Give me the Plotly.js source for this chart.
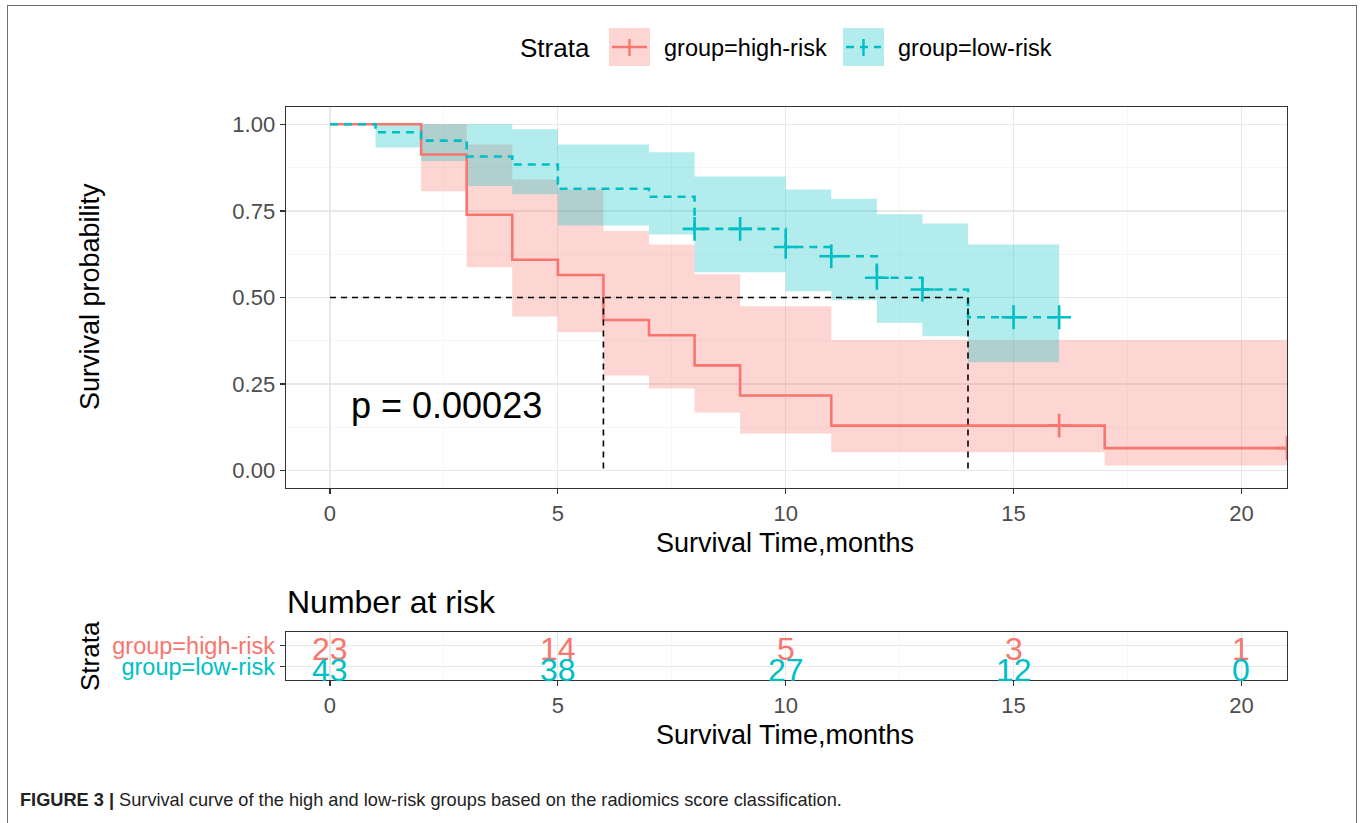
<!DOCTYPE html>
<html><head><meta charset="utf-8">
<script src="https://cdn.plot.ly/plotly-3.0.1.min.js"></script>
<style>
html,body{margin:0;padding:0;background:#fff;}
#chart{width:1362px;height:823px;position:absolute;left:0;top:0;}
#frame{position:absolute;left:7px;top:5px;width:1348px;height:840px;border:1.5px solid #6e6e6e;border-bottom:none;pointer-events:none;}
</style>
</head><body><div id="chart"></div><div id="frame"></div>
<script>
// ---- data ----
const highTime  = [0, 2, 3, 4, 5, 6, 7, 8, 9, 11, 17, 21];
const highSurv  = [1, 0.913, 0.739, 0.609, 0.565, 0.435, 0.391, 0.304, 0.217, 0.130, 0.065, 0.065];
const highUpper = [1, 1, 0.942, 0.841, 0.812, 0.692, 0.653, 0.567, 0.475, 0.377, 0.377, 0.377];
const highLower = [1, 0.807, 0.587, 0.445, 0.400, 0.275, 0.237, 0.168, 0.107, 0.053, 0.015, 0.015];
const highCensorTime = [16, 21];
const highCensorSurv = [0.130, 0.065];

const lowTime  = [0, 1, 2, 3, 4, 5, 7, 8, 10, 11, 12, 13, 14, 16];
const lowSurv  = [1, 0.977, 0.953, 0.907, 0.884, 0.814, 0.791, 0.698, 0.646, 0.619, 0.557, 0.523, 0.443, 0.443];
const lowUpper = [1, 1, 1, 1, 0.986, 0.942, 0.919, 0.849, 0.812, 0.785, 0.740, 0.714, 0.653, 0.653];
const lowLower = [1, 0.933, 0.894, 0.822, 0.798, 0.708, 0.682, 0.573, 0.518, 0.492, 0.427, 0.388, 0.313, 0.313];
const lowCensorTime = [8, 9, 10, 11, 12, 13, 15, 16];
const lowCensorSurv = [0.698, 0.698, 0.646, 0.619, 0.557, 0.523, 0.443, 0.443];

const medianTimes = [6, 14];
const medianLevel = 0.5;
const pText = "p = 0.00023";

const riskTimes = [0, 5, 10, 15, 20];
const riskHigh  = [23, 14, 5, 3, 1];
const riskLow   = [43, 38, 27, 12, 0];
const strataLabels = ["group=high-risk", "group=low-risk"];

// ---- styling ----
const RED = "#F8766D", CYAN = "#00BFC4";
const RED_FILL = "rgba(248,118,109,0.3)", CYAN_FILL = "rgba(0,191,196,0.3)";
const FONT = "Liberation Sans, Arial, sans-serif";
const W = 1362, H = 823;
const px = v => v / W, py = v => 1 - v / H;

const traces = [];
function band(t, up, lo, fill) {
  traces.push({x: t, y: up, mode: "lines", line: {width: 0, shape: "hv"}, xaxis: "x", yaxis: "y", showlegend: false, hoverinfo: "skip"});
  traces.push({x: t, y: lo, mode: "lines", line: {width: 0, shape: "hv"}, fill: "tonexty", fillcolor: fill, xaxis: "x", yaxis: "y", showlegend: false, hoverinfo: "skip"});
}
band(highTime, highUpper, highLower, RED_FILL);
band(lowTime, lowUpper, lowLower, CYAN_FILL);

traces.push({x: highTime, y: highSurv, mode: "lines", line: {color: RED, width: 2.6, shape: "hv"}, xaxis: "x", yaxis: "y", showlegend: false});
traces.push({x: lowTime, y: lowSurv, mode: "lines", line: {color: CYAN, width: 2.6, shape: "hv", dash: "8px,6px"}, xaxis: "x", yaxis: "y", showlegend: false});
traces.push({x: highCensorTime, y: highCensorSurv, mode: "markers", marker: {symbol: "cross-thin-open", size: 17, color: RED, line: {color: RED, width: 2.6}}, xaxis: "x", yaxis: "y", showlegend: false});
traces.push({x: lowCensorTime, y: lowCensorSurv, mode: "markers", marker: {symbol: "cross-thin-open", size: 17, color: CYAN, line: {color: CYAN, width: 2.6}}, xaxis: "x", yaxis: "y", showlegend: false});

// median reference lines
const mx = [0, Math.max(...medianTimes), null], my = [medianLevel, medianLevel, null];
medianTimes.forEach(t => { mx.push(t, t, null); my.push(medianLevel, 0, null); });
traces.push({x: mx, y: my, mode: "lines", line: {color: "#000", width: 1.6, dash: "6px,5px"}, xaxis: "x", yaxis: "y", showlegend: false});

const xr = [-0.965, 21];
const commonX = {
  range: xr, tickmode: "array", tickvals: riskTimes, ticktext: riskTimes.map(String),
  showgrid: true, gridcolor: "#e8e8e8", gridwidth: 1.2,
  minor: {dtick: 2.5, showgrid: true, gridcolor: "#f2f2f2", gridwidth: 0.7, ticklen: 0},
  zeroline: false, showline: true, mirror: true, linecolor: "#333", linewidth: 1.4,
  ticks: "outside", ticklen: 5, tickcolor: "#333", tickwidth: 1.3,
  tickfont: {family: FONT, size: 22, color: "#4d4d4d"}, automargin: false, fixedrange: true
};

const ann = (text, x, y, size, extra) => Object.assign({text, xref: "paper", yref: "paper", x: px(x), y: py(y),
  xanchor: "center", yanchor: "middle", showarrow: false, font: {family: FONT, size, color: "#000"}}, extra || {});

// risk table numbers as annotations on the risk-table axes
const riskAnn = [];
riskTimes.forEach((t, i) => {
  riskAnn.push({text: String(riskHigh[i]), xref: "x2", yref: "y2", x: t, y: 2, xanchor: "center", yanchor: "middle", yshift: -3, showarrow: false, font: {family: FONT, size: 32, color: RED}});
  riskAnn.push({text: String(riskLow[i]), xref: "x2", yref: "y2", x: t, y: 1, xanchor: "center", yanchor: "middle", yshift: -3, showarrow: false, font: {family: FONT, size: 32, color: CYAN}});
});

const layout = {
  width: W, height: H, margin: {l: 0, r: 0, t: 0, b: 0},
  paper_bgcolor: "#fff", plot_bgcolor: "#fff", showlegend: false,
  xaxis: Object.assign({}, commonX, {domain: [px(286), px(1287)], anchor: "y"}),
  yaxis: {domain: [py(488), py(107)], anchor: "x", range: [-0.05, 1.05],
    tickmode: "array", tickvals: [0, 0.25, 0.5, 0.75, 1], ticktext: ["0.00", "0.25", "0.50", "0.75", "1.00"],
    showgrid: true, gridcolor: "#e8e8e8", gridwidth: 1.2,
    minor: {tickvals: [0.125, 0.375, 0.625, 0.875], showgrid: true, gridcolor: "#f2f2f2", gridwidth: 0.7, ticklen: 0},
    zeroline: false, showline: true, mirror: true, linecolor: "#333", linewidth: 1.4,
    ticks: "outside", ticklen: 5, tickcolor: "#333", tickwidth: 1.3,
    tickfont: {family: FONT, size: 22, color: "#4d4d4d"}, automargin: false, fixedrange: true},
  xaxis2: Object.assign({}, commonX, {domain: [px(286), px(1287)], anchor: "y2"}),
  yaxis2: {domain: [py(680), py(632)], anchor: "x2", range: [0.357, 2.643],
    tickmode: "array", tickvals: [2, 1],
    ticktext: ['<span style="color:' + RED + '">' + strataLabels[0] + '</span>', '<span style="color:' + CYAN + '">' + strataLabels[1] + '</span>'],
    showgrid: true, gridcolor: "#e8e8e8", gridwidth: 1.2,
    zeroline: false, showline: true, mirror: true, linecolor: "#333", linewidth: 1.4,
    ticks: "outside", ticklen: 5, tickcolor: "#333", tickwidth: 1.3,
    tickfont: {family: FONT, size: 23.5}, automargin: false, fixedrange: true},
  annotations: [
    ann("Survival probability", 90, 297, 27, {textangle: -90}),
    ann("Survival Time,months", 785, 543, 27),
    {text: pText, xref: "x", yref: "y", x: 0.42, y: 0.188, xanchor: "left", yanchor: "middle", showarrow: false, font: {family: FONT, size: 36, color: "#000"}},
    ann("Number at risk", 285, 602, 32, {xanchor: "left"}),
    ann("Strata", 90, 656, 26, {textangle: -90}),
    ann("Survival Time,months", 785, 735, 27),
    ann("Strata", 518, 48, 26, {xanchor: "left"}),
    ann(strataLabels[0], 662, 48, 23.5, {xanchor: "left"}),
    ann(strataLabels[1], 896, 48, 23.5, {xanchor: "left"}),
    ann("<b>FIGURE 3 |</b> Survival curve of the high and low-risk groups based on the radiomics score classification.", 18, 800, 18.2, {xanchor: "left", font: {family: FONT, size: 18.2, color: "#222"}})
  ].concat(riskAnn),
  shapes: [
    // legend keys
    {type: "rect", xref: "paper", yref: "paper", x0: px(609), x1: px(650), y0: py(66), y1: py(28), fillcolor: RED_FILL, line: {width: 0}},
    {type: "line", xref: "paper", yref: "paper", x0: px(612), x1: px(647), y0: py(47), y1: py(47), line: {color: RED, width: 2.6}},
    {type: "line", xref: "paper", yref: "paper", x0: px(629.5), x1: px(629.5), y0: py(39), y1: py(56), line: {color: RED, width: 2.4}},
    {type: "rect", xref: "paper", yref: "paper", x0: px(843), x1: px(884), y0: py(66), y1: py(28), fillcolor: CYAN_FILL, line: {width: 0}},
    {type: "line", xref: "paper", yref: "paper", x0: px(846), x1: px(881), y0: py(47), y1: py(47), line: {color: CYAN, width: 2.6, dash: "8px,6px"}},
    {type: "line", xref: "paper", yref: "paper", x0: px(863.5), x1: px(863.5), y0: py(39), y1: py(56), line: {color: CYAN, width: 2.4}}
  ]
};

Plotly.newPlot("chart", traces, layout, {displayModeBar: false, staticPlot: true});
</script></body></html>
